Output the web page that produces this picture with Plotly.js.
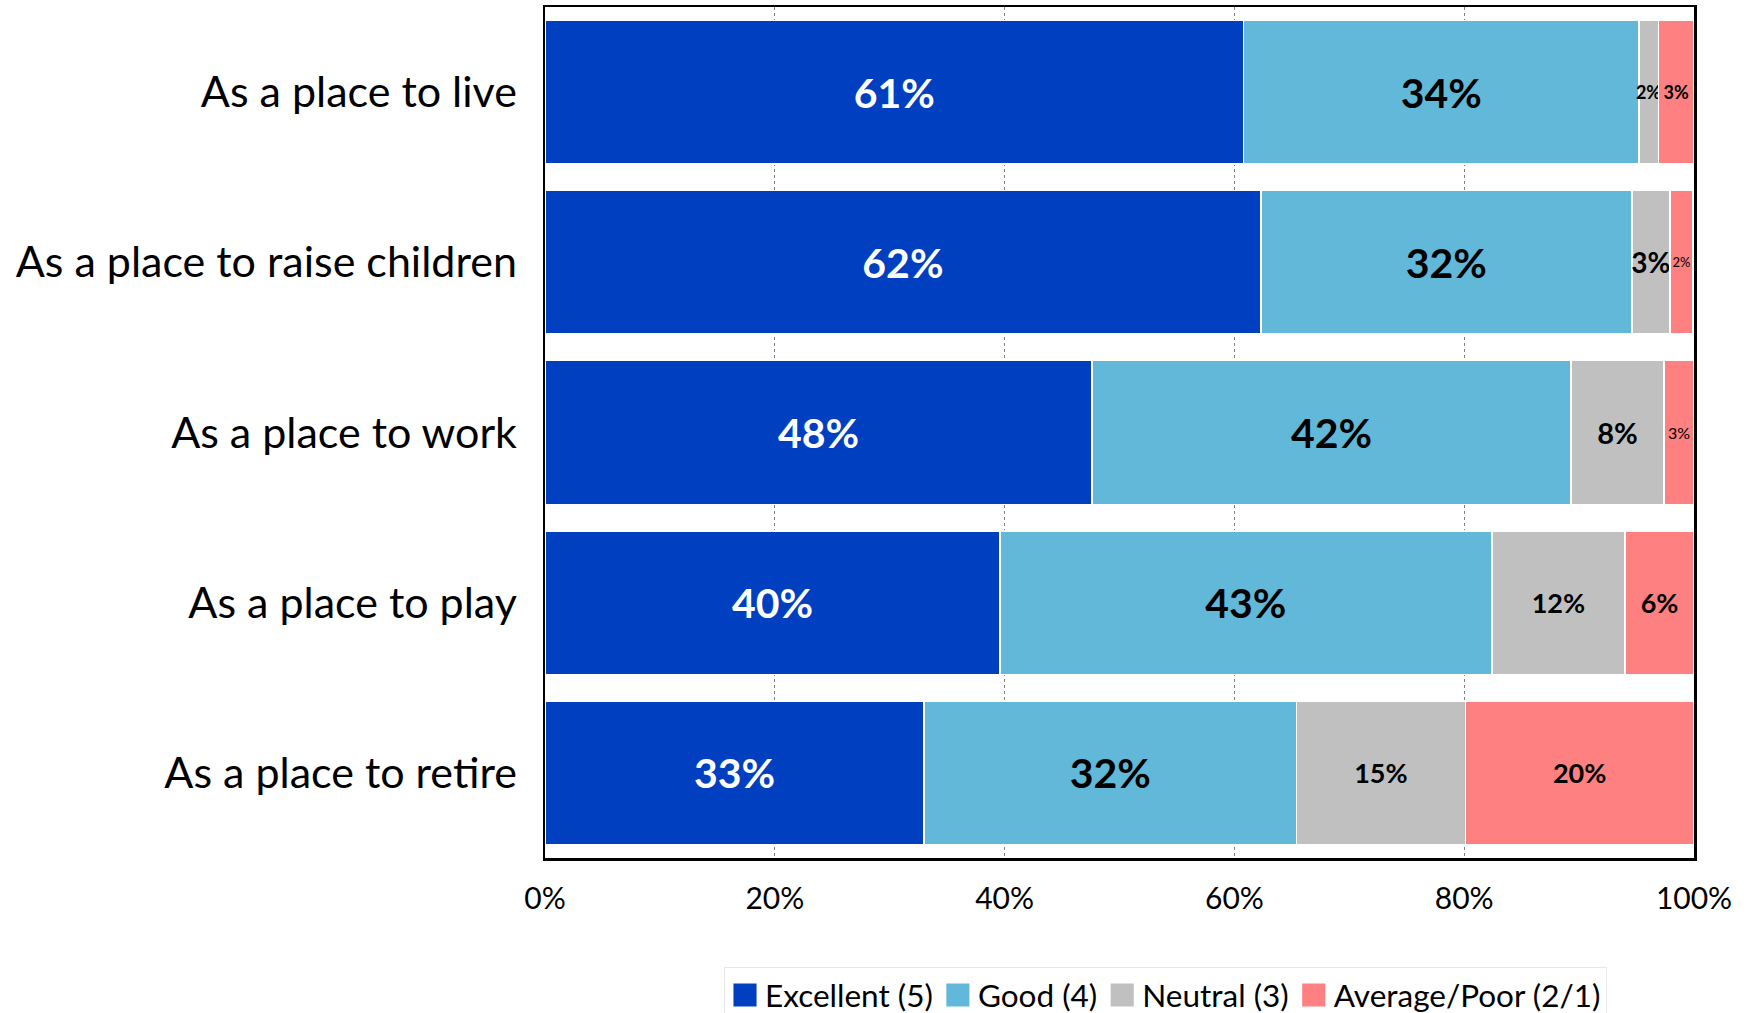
<!DOCTYPE html>
<html>
<head>
<meta charset="utf-8">
<script src="https://cdn.plot.ly/plotly-3.0.1.min.js"></script>
<style>html,body{margin:0;padding:0;background:#fff;}#chart{width:1755px;height:1013px;}</style>
</head>
<body>
<div id="chart"></div>
<script>
// ---- data ----
const categories = ["As a place to live", "As a place to raise children", "As a place to work", "As a place to play", "As a place to retire"];
const seriesNames = ["Excellent (5)", "Good (4)", "Neutral (3)", "Average/Poor (2/1)"];
const excellent = [60.8, 62.3, 47.6, 39.6, 33.0];
const good      = [34.4, 32.3, 41.7, 42.8, 32.4];
const neutral   = [1.7, 3.3, 8.1, 11.6, 14.7];
const avgPoor   = [3.1, 2.0, 2.6, 6.0, 19.9];
const xTicks = [0, 20, 40, 60, 80, 100];
const xTickLabels = ["0%", "20%", "40%", "60%", "80%", "100%"];

// ---- styles ----
const colors = ["#0040C0", "#62B8D8", "#C0C0C0", "#FF8080"];
const textColors = ["#ffffff", "#000000", "#000000", "#000000"];
const textSizes = [
  [41, 41, 41, 41, 41],
  [41, 41, 41, 41, 41],
  [18, 28, 29, 27, 27],
  [18, 13, 16, 27, 27]
];
const textBold = [
  [1, 1, 1, 1, 1],
  [1, 1, 1, 1, 1],
  [1, 1, 1, 1, 1],
  [1, 0, 0, 1, 1]
];
const FONT = "Lato, 'Open Sans', sans-serif";

const seriesValues = [excellent, good, neutral, avgPoor];
const traces = seriesValues.map((vals, i) => ({
  type: "bar",
  orientation: "h",
  name: seriesNames[i],
  y: categories,
  x: vals,
  text: vals.map((v, j) => {
    const t = Math.round(v) + "%";
    return textBold[i][j] ? "<b>" + t + "</b>" : t;
  }),
  textposition: "inside",
  insidetextanchor: "middle",
  constraintext: "none",
  textangle: 0,
  textfont: { family: FONT, color: textColors[i], size: textSizes[i] },
  marker: { color: colors[i], line: { color: "#ffffff", width: 1.5 } },
  hoverinfo: "skip"
}));

const layout = {
  width: 1755,
  height: 1013,
  barmode: "stack",
  bargap: 0.156,
  paper_bgcolor: "#ffffff",
  plot_bgcolor: "#ffffff",
  margin: { l: 545, r: 61, t: 7, b: 155, pad: 0 },
  font: { family: FONT, color: "#000000" },
  showlegend: true,
  legend: {
    orientation: "h",
    xref: "paper", x: 0.1558, xanchor: "left",
    yref: "container", y: 0.0454, yanchor: "top",
    font: { family: FONT, size: 31.5, color: "#000000" },
    bordercolor: "#e8e8e8",
    borderwidth: 1,
    itemclick: false,
    traceorder: "normal",
    itemwidth: 30
  },
  xaxis: {
    range: [0, 100],
    tickvals: xTicks,
    ticktext: xTickLabels,
    tickfont: { family: FONT, size: 30, color: "#000000" },
    showgrid: true,
    gridcolor: "#808080",
    gridwidth: 1,
    griddash: "dot",
    zeroline: false,
    showline: true,
    linecolor: "#000000",
    linewidth: 2.5,
    mirror: true,
    ticks: "",
    ticklabelstandoff: 12,
    fixedrange: true
  },
  yaxis: {
    type: "category",
    categoryorder: "array",
    categoryarray: categories,
    autorange: "reversed",
    tickfont: { family: FONT, size: 43, color: "#000000" },
    showgrid: false,
    zeroline: false,
    showline: true,
    linecolor: "#000000",
    linewidth: 2.5,
    mirror: true,
    ticks: "",
    ticklabelstandoff: 17,
    fixedrange: true
  }
};

Plotly.newPlot("chart", traces, layout, { displayModeBar: false, staticPlot: true }).then(() => {
  // enlarge legend colour boxes to match the reference's square swatches
  document.querySelectorAll("#chart .legend .legendpoints path").forEach(p => {
    const t = p.getAttribute("transform") || "";
    p.setAttribute("transform", t + " scale(2.2)");
  });
});
</script>
</body>
</html>
